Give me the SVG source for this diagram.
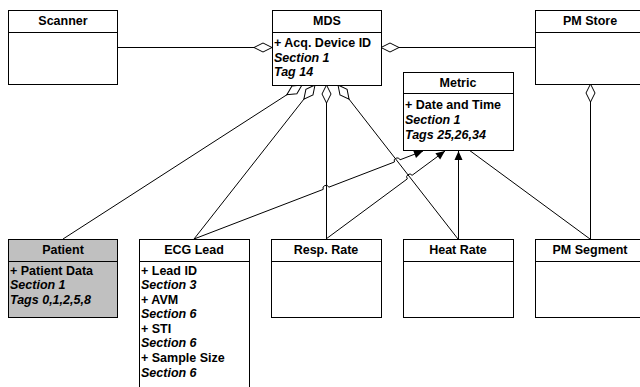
<svg xmlns="http://www.w3.org/2000/svg" width="640" height="387" viewBox="0 0 640 387">
<style>
text{font-family:"Liberation Sans",Arial,sans-serif;font-weight:bold;font-size:12.5px;fill:#000}
.t{text-anchor:middle}
.i{font-style:italic}
.box{fill:#fff;stroke:#000;stroke-width:1}
.gray{fill:#c0c0c0}
.sep{stroke:#000;stroke-width:1}
.c{fill:none;stroke:#000;stroke-width:1}
.agg{marker-start:url(#dia)}
.nav{marker-end:url(#arr)}
</style>
<defs>
<marker id="dia" markerUnits="userSpaceOnUse" markerWidth="20" markerHeight="12" refX="0" refY="6" orient="auto" viewBox="0 0 20 12" overflow="visible">
<path d="M0,6 L9,1.5 L18,6 L9,10.5 Z" fill="#fff" stroke="#000" stroke-width="1"/>
</marker>
<marker id="arr" markerUnits="userSpaceOnUse" markerWidth="10" markerHeight="8" refX="9" refY="4" orient="auto" viewBox="0 0 10 8" overflow="visible">
<path d="M0,0 L9,4 L0,8 Z" fill="#000"/>
</marker>
</defs>
<rect width="640" height="387" fill="#fff"/>
<g id="connectors">
<path class="c agg" d="M272,47.5 L117,47.5"/>
<path class="c agg" d="M381,47.5 L535,47.5"/>
<path class="c agg" d="M590.5,84 L590.5,239"/>
<path class="c agg" d="M302,85 L63,239"/>
<path class="c agg" d="M315,85 L194,239"/>
<path class="c agg" d="M326.5,85 L326.5,239"/>
<path class="c agg" d="M338,85 L458,239"/>
<path class="c nav" d="M194,239 L323.2,189.4 A3,3 0 0 1 328.8,187.2 L394.4,162.0 A3,3 0 0 1 400.0,159.8 L423,151"/>
<path class="c nav" d="M326,239 L407.3,178.9 A3,3 0 0 1 412.1,175.3 L445,151"/>
<path class="c nav" d="M458.5,239 L458.5,151"/>
<path class="c" d="M469,150 L590,239"/>
</g>
<g id="scanner">
<rect class="box" x="8.5" y="10.5" width="109" height="74"/>
<line class="sep" x1="8.5" y1="32.5" x2="117.5" y2="32.5"/>
<text class="t" x="63" y="25">Scanner</text>
</g>
<g id="mds">
<rect class="box" x="272.5" y="10.5" width="109" height="75"/>
<line class="sep" x1="272.5" y1="32.5" x2="381.5" y2="32.5"/>
<text class="t" x="327" y="25">MDS</text>
<text x="274" y="47">+ Acq. Device ID</text>
<text class="i" x="274" y="62">Section 1</text>
<text class="i" x="274" y="76">Tag 14</text>
</g>
<g id="pmstore">
<rect class="box" x="535.5" y="10.5" width="110" height="74"/>
<line class="sep" x1="535.5" y1="32.5" x2="645" y2="32.5"/>
<text class="t" x="590" y="25">PM Store</text>
</g>
<g id="metric">
<rect class="box" x="403.5" y="72.5" width="110" height="78"/>
<line class="sep" x1="403.5" y1="93.5" x2="513.5" y2="93.5"/>
<text class="t" x="458" y="87">Metric</text>
<text x="405" y="109">+ Date and Time</text>
<text class="i" x="405" y="124">Section 1</text>
<text class="i" x="405" y="139">Tags 25,26,34</text>
</g>
<g id="patient">
<rect class="box gray" x="8.5" y="239.5" width="109" height="78"/>
<line class="sep" x1="8.5" y1="261.5" x2="117.5" y2="261.5"/>
<text class="t" x="63" y="254">Patient</text>
<text x="10" y="275">+ Patient Data</text>
<text class="i" x="10" y="289">Section 1</text>
<text class="i" x="10" y="304">Tags 0,1,2,5,8</text>
</g>
<g id="ecglead">
<rect class="box" x="139.5" y="239.5" width="110" height="160"/>
<line class="sep" x1="139.5" y1="261.5" x2="249.5" y2="261.5"/>
<text class="t" x="194" y="254">ECG Lead</text>
<text x="141" y="275">+ Lead ID</text>
<text class="i" x="141" y="289">Section 3</text>
<text x="141" y="304">+ AVM</text>
<text class="i" x="141" y="318">Section 6</text>
<text x="141" y="333">+ STI</text>
<text class="i" x="141" y="347">Section 6</text>
<text x="141" y="362">+ Sample Size</text>
<text class="i" x="141" y="377">Section 6</text>
</g>
<g id="resprate">
<rect class="box" x="271.5" y="239.5" width="110" height="78"/>
<line class="sep" x1="271.5" y1="261.5" x2="381.5" y2="261.5"/>
<text class="t" x="326" y="254">Resp. Rate</text>
</g>
<g id="heatrate">
<rect class="box" x="403.5" y="239.5" width="110" height="78"/>
<line class="sep" x1="403.5" y1="261.5" x2="513.5" y2="261.5"/>
<text class="t" x="458" y="254">Heat Rate</text>
</g>
<g id="pmsegment">
<rect class="box" x="535.5" y="239.5" width="110" height="78"/>
<line class="sep" x1="535.5" y1="261.5" x2="645" y2="261.5"/>
<text class="t" x="590" y="254">PM Segment</text>
</g>
</svg>
